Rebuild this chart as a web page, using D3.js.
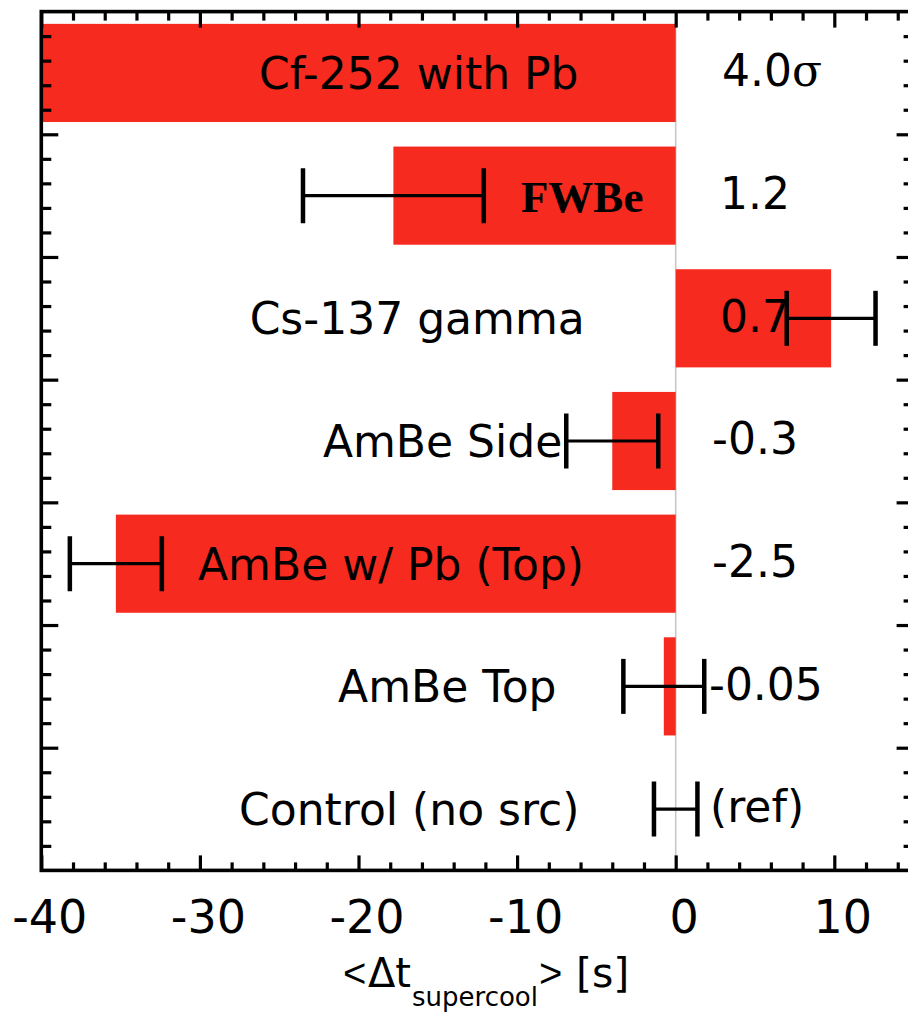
<!DOCTYPE html>
<html>
<head>
<meta charset="utf-8">
<script src="https://cdn.jsdelivr.net/npm/d3@7"></script>
<style>
  html, body { margin: 0; padding: 0; background: #fff; }
  svg { display: block; }
  text { font-family: "DejaVu Sans", Verdana, sans-serif; fill: #000; }
</style>
</head>
<body>
<svg id="chart" width="908" height="1016"></svg>
<script>
// Source categories, top to bottom
const categories = [
  "Cf-252 with Pb",
  "FWBe",
  "Cs-137 gamma",
  "AmBe Side",
  "AmBe w/ Pb (Top)",
  "AmBe Top",
  "Control (no src)"
];
// Mean supercooling time shift relative to control [s]
const deltaT = [-40, -17.8, 9.8, -4.0, -35.3, -0.75, 0];
// Half-width of the error bar [s] (null = none drawn)
const deltaTErr = [null, 5.7, 2.8, 2.9, 2.9, 2.55, 1.37];
// Significance annotations
const significance = ["4.0σ", "1.2", "0.7", "-0.3", "-2.5", "-0.05", "(ref)"];
// Axis ticks
const xTickLabels = [-40, -30, -20, -10, 0, 10];
const xDomain = [-40, 15];

// Label anchors, in axis units (layout only)
const categoryLabelAt = [-16.2, -5.9, -16.3, -14.7, -17.95, -14.4, -16.8];
const significanceLabelAt = [6.07, 5.0, 5.0, 5.0, 5.0, 5.69, 5.13];

const W = 908, H = 1016;
const plot = { left: 41.3, right: 913.6, top: 11.6, bottom: 870.4 };
const RED = "#f62a1f";

const svg = d3.select("#chart");

const x = d3.scaleLinear().domain(xDomain).range([plot.left, plot.right]);
const y = d3.scaleBand().domain(categories)
  .range([plot.top, plot.bottom]).paddingInner(0.2).paddingOuter(0.1);
const yLin = d3.scaleLinear().domain([0, categories.length]).range([plot.top, plot.bottom]);

svg.append("defs").append("clipPath").attr("id", "plotclip")
  .append("rect")
  .attr("x", plot.left).attr("y", plot.top)
  .attr("width", plot.right - plot.left).attr("height", plot.bottom - plot.top);

const g = svg.append("g").attr("clip-path", "url(#plotclip)");

// zero reference line
g.append("line")
  .attr("x1", x(0)).attr("x2", x(0))
  .attr("y1", plot.top).attr("y2", plot.bottom)
  .attr("stroke", "#c8c8c8").attr("stroke-width", 1.6);

// bars
g.selectAll("rect.bar").data(categories).join("rect")
  .attr("class", "bar")
  .attr("x", (d, i) => Math.min(x(deltaT[i]), x(0)))
  .attr("width", (d, i) => Math.abs(x(deltaT[i]) - x(0)))
  .attr("y", d => y(d))
  .attr("height", y.bandwidth())
  .attr("fill", RED);

// category labels
svg.selectAll("text.cat").data(categories).join("text")
  .attr("class", "cat")
  .attr("x", (d, i) => x(categoryLabelAt[i]))
  .attr("y", d => y(d) + y.bandwidth() / 2)
  .attr("dy", "0.36em")
  .attr("text-anchor", "middle")
  .style("font-size", d => d === "FWBe" ? "45px" : "44px")
  .style("font-family", d => d === "FWBe" ? "'Liberation Serif', 'Times New Roman', serif" : null)
  .style("font-weight", d => d === "FWBe" ? "bold" : null)
  .text(d => d);

// significance labels
const sig = svg.selectAll("text.sig").data(significance).join("text")
  .attr("class", "sig")
  .attr("x", (d, i) => x(significanceLabelAt[i]))
  .attr("y", (d, i) => y(categories[i]) + y.bandwidth() / 2)
  .attr("dy", "0.3em")
  .attr("text-anchor", "middle")
  .style("font-size", "44px");
sig.each(function (d) {
  const t = d3.select(this);
  if (d.endsWith("σ")) {
    t.append("tspan").text(d.slice(0, -1));
    t.append("tspan").style("font-family", "'DejaVu Serif', serif").text("σ");
  } else {
    t.text(d);
  }
});

// error bars
const errData = categories.map((c, i) => ({ c, v: deltaT[i], e: deltaTErr[i] })).filter(d => d.e != null);
const capH = 55;
const eb = g.selectAll("g.err").data(errData).join("g").attr("class", "err")
  .attr("transform", d => `translate(0,${y(d.c) + y.bandwidth() / 2})`);
eb.append("line")
  .attr("x1", d => x(d.v - d.e)).attr("x2", d => x(d.v + d.e))
  .attr("y1", 0).attr("y2", 0)
  .attr("stroke", "#000").attr("stroke-width", 3.2);
eb.selectAll("line.cap").data(d => [d.v - d.e, d.v + d.e]).join("line")
  .attr("class", "cap")
  .attr("x1", d => x(d)).attr("x2", d => x(d))
  .attr("y1", -capH / 2).attr("y2", capH / 2)
  .attr("stroke", "#000").attr("stroke-width", 4.5);

// frame ticks
const xMinor = d3.range(xDomain[0], xDomain[1] + 0.01, 2).filter(v => v % 10 !== 0);
const xMajor = d3.range(xDomain[0], xDomain[1] + 0.01, 10);
const yMinor = d3.range(0, categories.length + 0.001, 0.2).filter(v => Math.abs(v - Math.round(v)) > 1e-6);
const yMajor = d3.range(1, categories.length);

function tickLayer(axis, tx, ty) {
  const a = svg.append("g").attr("transform", `translate(${tx},${ty})`).call(axis);
  a.select(".domain").remove();
  a.selectAll("line").attr("stroke", "#000").attr("stroke-width", 3.2);
  a.selectAll("text").remove();
  return a;
}
// top (inward, pointing down)
tickLayer(d3.axisBottom(x).tickValues(xMinor).tickSize(9).tickFormat(""), 0, plot.top);
tickLayer(d3.axisBottom(x).tickValues(xMajor).tickSize(16).tickFormat(""), 0, plot.top);
// bottom (inward, pointing up)
tickLayer(d3.axisTop(x).tickValues(xMinor).tickSize(8).tickFormat(""), 0, plot.bottom);
tickLayer(d3.axisTop(x).tickValues(xMajor).tickSize(15).tickFormat(""), 0, plot.bottom);
// left (inward, pointing right)
tickLayer(d3.axisRight(yLin).tickValues(yMinor).tickSize(10).tickFormat(""), plot.left, 0);
tickLayer(d3.axisRight(yLin).tickValues(yMajor).tickSize(17).tickFormat(""), plot.left, 0);
// right (inward, pointing left)
tickLayer(d3.axisLeft(yLin).tickValues(yMinor).tickSize(10).tickFormat(""), plot.right, 0);
tickLayer(d3.axisLeft(yLin).tickValues(yMajor).tickSize(17).tickFormat(""), plot.right, 0);

// frame
svg.append("rect")
  .attr("x", plot.left).attr("y", plot.top)
  .attr("width", plot.right - plot.left).attr("height", plot.bottom - plot.top)
  .attr("fill", "none").attr("stroke", "#000").attr("stroke-width", 3.6);

// x tick labels (plain hyphen for negatives)
const xl = svg.append("g").attr("transform", `translate(0,${plot.bottom})`)
  .call(d3.axisBottom(x).tickValues(xTickLabels).tickSize(0).tickPadding(29.6).tickFormat(d => String(d)));
xl.select(".domain").remove();
xl.selectAll("text")
  .attr("dx", 8)
  .style("font-family", "'DejaVu Sans', Verdana, sans-serif")
  .style("font-size", "46px")
  .attr("fill", "#000");

// x axis title: <Δt_supercool> [s]
const title = svg.append("text").attr("y", 987).style("font-size", "40px");
title.append("tspan").attr("x", 343).style("font-family", "'Liberation Sans', Arial, sans-serif").text("<");
title.append("tspan").attr("x", 368).text("Δt");
title.append("tspan").attr("x", 412).attr("y", 1006).style("font-size", "26px").text("supercool");
title.append("tspan").attr("x", 539).attr("y", 987).style("font-family", "'Liberation Sans', Arial, sans-serif").text(">");
title.append("tspan").attr("x", 576).attr("y", 987).style("font-size", "41px").text("[s]");
</script>
</body>
</html>
